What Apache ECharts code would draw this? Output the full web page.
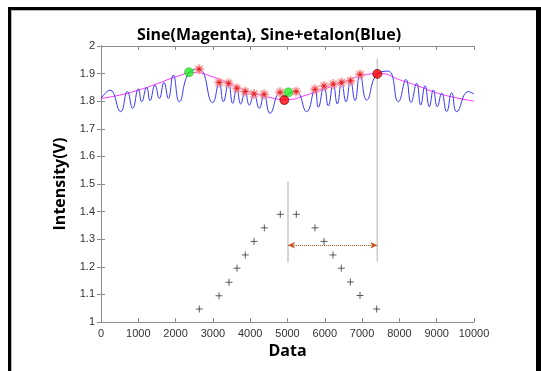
<!DOCTYPE html>
<html>
<head>
<meta charset="utf-8">
<script src="https://cdn.jsdelivr.net/npm/echarts@6/dist/echarts.min.js"></script>
<style>
  html, body { margin: 0; padding: 0; background: #fff; }
  #chart { width: 541px; height: 371px; }
</style>
</head>
<body>
<div id="chart"></div>
<script>
// Magenta: plain sine, every 500
const magentaX = [0, 500, 1000, 1500, 2000, 2500, 3000, 3500, 4000, 4500, 5000, 5500, 6000, 6500, 7000, 7500, 8000, 8500, 9000, 9500, 10000]
const magentaY = [1.810, 1.822, 1.840, 1.863, 1.888, 1.904, 1.888, 1.860, 1.834, 1.814, 1.806, 1.822, 1.845, 1.870, 1.893, 1.900, 1.878, 1.855, 1.830, 1.813, 1.800]

// Blue: sine + etalon, peaks and troughs
const blueX = [0, 241, 527, 706, 849, 1001, 1090, 1225, 1314, 1448, 1564, 1689, 1805, 1939, 2100, 2359, 2630,
  2994, 3168, 3280, 3420, 3530, 3640, 3745, 3863, 3976, 4102, 4244, 4372, 4531, 4800, 4935, 5050, 5232,
  5514, 5737, 5827, 5979, 6095, 6225, 6336, 6450, 6569, 6690, 6810, 6944, 7123, 7408, 7703, 7971, 8177,
  8311, 8464, 8571, 8687, 8802, 8909, 9017, 9134, 9268, 9402, 9536, 9848, 10000]
const blueY = [1.810, 1.840, 1.762, 1.835, 1.774, 1.845, 1.798, 1.850, 1.802, 1.858, 1.810, 1.868, 1.810, 1.895, 1.798, 1.903, 1.916,
  1.795, 1.868, 1.798, 1.865, 1.792, 1.847, 1.790, 1.835, 1.786, 1.826, 1.774, 1.825, 1.756, 1.832, 1.815, 1.830, 1.835,
  1.762, 1.843, 1.778, 1.855, 1.783, 1.862, 1.790, 1.868, 1.798, 1.874, 1.802, 1.897, 1.804, 1.899, 1.909, 1.798, 1.879,
  1.795, 1.865, 1.786, 1.856, 1.780, 1.841, 1.780, 1.829, 1.762, 1.831, 1.762, 1.835, 1.826]

// red asterisks on the etalon peaks
const starX = [2630, 3168, 3420, 3640, 3863, 4102, 4372, 4800, 5232, 5737, 5979, 6225, 6450, 6690, 6944]
const starY = [1.916, 1.868, 1.865, 1.847, 1.835, 1.826, 1.825, 1.832, 1.835, 1.843, 1.855, 1.862, 1.868, 1.874, 1.897]

// black pluses (triangle)
const plusX = [2636, 3164, 3432, 3646, 3869, 4102, 4378, 4807, 5236, 5737, 5979, 6220, 6443, 6685, 6944, 7391]
const plusY = [1.047, 1.095, 1.144, 1.195, 1.243, 1.292, 1.341, 1.390, 1.390, 1.341, 1.292, 1.243, 1.195, 1.145, 1.096, 1.047]

const greenX = [2359, 5022]
const greenY = [1.905, 1.832]
const redX = [4915, 7408]
const redY = [1.804, 1.899]

// gray vertical markers and the dotted span arrow
const leftMarkX = [5013, 5013]
const leftMarkY = [1.508, 1.215]
const rightMarkX = [7408, 7408]
const rightMarkY = [1.955, 1.218]
const arrowX = [5013, 7408]
const arrowY = 1.278

const xTicks = { min: 0, max: 10000, interval: 1000 }
const yTicks = { min: 1, max: 2, interval: 0.1 }

const zip = (xs, ys) => xs.map((x, i) => [x, ys[i]])

const AXIS_COLOR = '#8c8c8c'
const LABEL_FONT = 'Liberation Sans'
const BOLD_FONT = 'Open Sans'

const plusPath = 'path://M5,0L5,10M0,5L10,5'
const starPath = 'path://M5,0L5,10M0,5L10,5M1.5,1.5L8.5,8.5M1.5,8.5L8.5,1.5'

const chart = echarts.init(document.getElementById('chart'), null, { renderer: 'canvas' })

const baseX = {
  type: 'value', min: xTicks.min, max: xTicks.max, interval: xTicks.interval,
  axisLine: { show: true, lineStyle: { color: AXIS_COLOR, width: 1 } },
  axisTick: { show: true, inside: true, length: 4, lineStyle: { color: AXIS_COLOR } },
  splitLine: { show: false },
}
const baseY = {
  type: 'value', min: yTicks.min, max: yTicks.max, interval: yTicks.interval,
  axisLine: { show: true, lineStyle: { color: AXIS_COLOR, width: 1 } },
  axisTick: { show: true, inside: true, length: 4, lineStyle: { color: AXIS_COLOR } },
  splitLine: { show: false },
}

chart.setOption({
  animation: false,
  backgroundColor: '#fff',
  title: {
    text: 'Sine(Magenta), Sine+etalon(Blue)',
    left: 264, top: 22, textAlign: 'center',
    textStyle: { fontFamily: BOLD_FONT, fontWeight: 'bold', fontSize: 16, color: '#000' },
  },
  grid: { left: 101, right: 67, top: 46, bottom: 49 },
  xAxis: [
    {
      ...baseX, position: 'bottom',
      name: 'Data', nameLocation: 'middle', nameGap: 19,
      nameTextStyle: { fontFamily: BOLD_FONT, fontWeight: 'bold', fontSize: 16, color: '#000' },
      axisLabel: { fontFamily: LABEL_FONT, fontSize: 11, color: '#333', margin: 6, formatter: v => String(v) },
    },
    { ...baseX, position: 'top', axisLabel: { show: false } },
  ],
  yAxis: [
    {
      ...baseY, position: 'left',
      name: 'Intensity(V)', nameLocation: 'middle', nameGap: 28,
      nameTextStyle: { fontFamily: BOLD_FONT, fontWeight: 'bold', fontSize: 16, color: '#000' },
      axisLabel: {
        fontFamily: LABEL_FONT, fontSize: 11, color: '#333', margin: 6,
        formatter: v => String(+v.toFixed(1)),
      },
    },
    { ...baseY, position: 'right', axisLabel: { show: false } },
  ],
  graphic: [
    { type: 'rect', shape: { x: 8, y: 7, width: 3, height: 364 }, style: { fill: '#000' } },
    { type: 'rect', shape: { x: 8, y: 7, width: 533, height: 3 }, style: { fill: '#000' } },
    { type: 'rect', shape: { x: 536, y: 7, width: 5, height: 364 }, style: { fill: '#000' } },
    { type: 'rect', shape: { x: 11, y: 10, width: 1, height: 361 }, style: { fill: '#b4b4b4' } },
    { type: 'rect', shape: { x: 11, y: 10, width: 525, height: 1 }, style: { fill: '#b4b4b4' } },
  ],
  series: [
    {
      type: 'line', data: zip(leftMarkX, leftMarkY), showSymbol: false, silent: true,
      lineStyle: { color: '#c8c8c8', width: 1.5 }, z: 1,
    },
    {
      type: 'line', data: zip(rightMarkX, rightMarkY), showSymbol: false, silent: true,
      lineStyle: { color: '#c8c8c8', width: 1.5 }, z: 1,
      markLine: {
        silent: true, symbol: ['arrow', 'arrow'], symbolSize: [5, 7],
        label: { show: false },
        lineStyle: { color: '#C8501E', type: 'dotted', width: 1 },
        data: [[{ coord: [arrowX[0], arrowY] }, { coord: [arrowX[1], arrowY] }]],
      },
    },
    {
      type: 'line', data: zip(magentaX, magentaY), smooth: true, showSymbol: false,
      lineStyle: { color: '#ff33ff', width: 1 }, z: 2,
    },
    {
      type: 'line', data: zip(blueX, blueY), smooth: 0.5, showSymbol: false,
      lineStyle: { color: '#3838ff', width: 1 }, z: 3,
    },
    {
      type: 'scatter', data: zip(plusX, plusY), symbol: plusPath, symbolSize: 7,
      itemStyle: { color: 'none', borderColor: '#333', borderWidth: 1 }, z: 4,
    },
    {
      type: 'scatter', data: zip(starX, starY), symbol: starPath, symbolSize: 10,
      itemStyle: { color: 'none', borderColor: '#ff9a9a', borderWidth: 2.2 }, z: 5,
    },
    {
      type: 'scatter', data: zip(starX, starY), symbol: starPath, symbolSize: 6,
      itemStyle: { color: 'none', borderColor: '#e01010', borderWidth: 1 }, z: 6,
    },
    {
      type: 'scatter', data: zip(greenX, greenY), symbol: 'circle', symbolSize: 9,
      itemStyle: { color: '#22ee22', borderColor: '#1aa81a', borderWidth: 0.6 }, z: 7,
    },
    {
      type: 'scatter', data: zip(redX, redY), symbol: 'circle', symbolSize: 9,
      itemStyle: { color: '#ff0000', borderColor: '#5a0000', borderWidth: 0.8 }, z: 7,
    },
  ],
})
</script>
</body>
</html>
